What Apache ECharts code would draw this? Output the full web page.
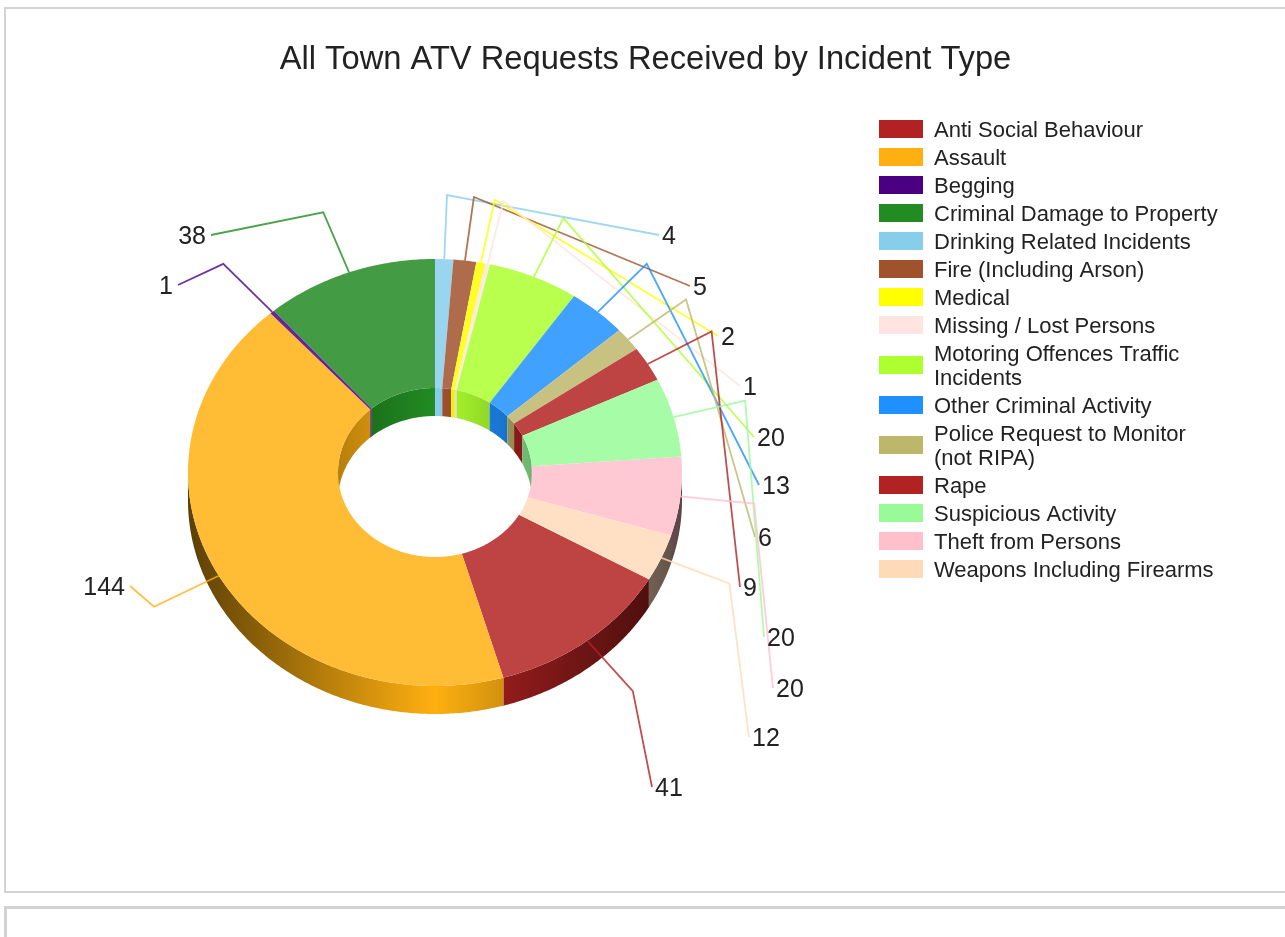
<!DOCTYPE html>
<html>
<head>
<meta charset="utf-8">
<title>All Town ATV Requests Received by Incident Type</title>
<script src="https://cdn.jsdelivr.net/npm/echarts@6/dist/echarts.min.js"></script>
<style>
  html, body { margin: 0; height: 100%; background: #fff; overflow: hidden; }
  .panel { position: absolute; left: 4px; width: 1400px; border: solid #d3d3d3; box-sizing: border-box; }
  #panelTop { top: 7px; height: 886px; border-width: 2px; }
  #panelNext { top: 906px; height: 200px; border-width: 3px 2px 2px 3px; }
  #chart { position: absolute; left: 0; top: 0; width: 1285px; height: 937px; }
</style>
</head>
<body>
<div class="panel" id="panelTop"></div>
<div class="panel" id="panelNext"></div>
<div id="chart"></div>
<script>
const categories = [
  "Anti Social Behaviour", "Assault", "Begging", "Criminal Damage to Property",
  "Drinking Related Incidents", "Fire (Including Arson)", "Medical", "Missing / Lost Persons",
  "Motoring Offences Traffic\nIncidents", "Other Criminal Activity",
  "Police Request to Monitor\n(not RIPA)", "Rape", "Suspicious Activity",
  "Theft from Persons", "Weapons Including Firearms",
];
const values = [41, 144, 1, 38, 4, 5, 2, 1, 20, 13, 6, 9, 20, 20, 12];
const colors = [
  "#B22222", "#FFB010", "#4B0082", "#228B22", "#87CEEB", "#A0522D", "#FFFF00", "#FFE4E1",
  "#ADFF2F", "#1E90FF", "#BDB76B", "#B22222", "#98FB98", "#FFC0CB", "#FFDAB9",
];
// where each leader line stops, same order as categories
const leaderEnds = [
  [652, 787], [130, 586], [178, 285], [211, 235], [659, 235], [690, 286], [718, 336], [740, 386],
  [754, 437], [759, 485], [755, 537], [740, 587], [764, 637], [773, 688], [749, 737],
];
// the slice that begins at 12 o'clock
const firstAtTop = 4;

// pie geometry
const cx = 435, cy = 472.5, rx = 247, ry = 213.5, holeRx = 97, holeRy = 84.5, depth = 28;
const knee = 1.3;

const total = values.reduce((a, b) => a + b, 0);
const beforeTop = values.slice(0, firstAtTop).reduce((a, b) => a + b, 0);

function startOf(i) {
  let sum = 0;
  for (let k = 0; k < i; k++) sum += values[k];
  return ((sum - beforeTop) / total) * Math.PI * 2;
}

function pointAt(a, x, y, dy) {
  return [cx + x * Math.sin(a), cy - y * Math.cos(a) + (dy || 0)];
}

function arc(from, to, x, y, dy) {
  let pts = [];
  let steps = Math.max(2, Math.ceil(Math.abs(to - from) / 0.01));
  for (let s = 0; s <= steps; s++) {
    pts.push(pointAt(from + ((to - from) * s) / steps, x, y, dy));
  }
  return pts;
}

function shade(hex, k) {
  const n = parseInt(hex.slice(1), 16);
  const c = [(n >> 16) & 255, (n >> 8) & 255, n & 255].map((v) => Math.round(v * k));
  return `rgb(${c[0]},${c[1]},${c[2]})`;
}

function lighten(hex, k) {
  const n = parseInt(hex.slice(1), 16);
  const c = [(n >> 16) & 255, (n >> 8) & 255, n & 255].map((v) => Math.round(v + (255 - v) * k));
  return `rgb(${c[0]},${c[1]},${c[2]})`;
}

// walls get lit from the middle of the pie
function wallFill(hex, left, right, leftK, rightK) {
  return new echarts.graphic.LinearGradient(left, 0, right, 0, [
    { offset: 0, color: shade(hex, leftK) },
    { offset: 0.5, color: shade(hex, 1) },
    { offset: 1, color: shade(hex, rightK) },
  ], true);
}

// part of [from, to] that falls inside [lo, hi], trying full turns
function overlaps(from, to, lo, hi) {
  let out = [];
  for (let turn = -2; turn <= 2; turn++) {
    const a = Math.max(from, lo + turn * Math.PI * 2);
    const b = Math.min(to, hi + turn * Math.PI * 2);
    if (b > a) out.push([a, b]);
  }
  return out;
}

function renderSlice(i, api) {
  const from = startOf(i);
  const to = from + (api.value(0) / total) * Math.PI * 2;
  const mid = (from + to) / 2;
  const hex = colors[i];
  let children = [];

  // outer wall, front half only
  overlaps(from, to, Math.PI / 2, (Math.PI * 3) / 2).forEach((r) => {
    children.push({
      type: "polygon",
      z2: 1,
      shape: { points: arc(r[0], r[1], rx, ry, 0).concat(arc(r[1], r[0], rx, ry, depth)) },
      style: { fill: wallFill(hex, cx - rx, cx + rx, 0.36, 0.36) },
    });
  });
  // inner wall, back half only
  overlaps(from, to, -Math.PI / 2, Math.PI / 2).forEach((r) => {
    children.push({
      type: "polygon",
      z2: 2,
      shape: { points: arc(r[0], r[1], holeRx, holeRy, 0).concat(arc(r[1], r[0], holeRx, holeRy, depth)) },
      style: { fill: wallFill(hex, cx - holeRx, cx + holeRx, 0.72, 0.72) },
    });
  });
  // top face
  children.push({
    type: "polygon",
    z2: 3,
    shape: { points: arc(from, to, rx, ry, 0).concat(arc(to, from, holeRx, holeRy, 0)) },
    style: { fill: lighten(hex, 0.15) },
  });
  // leader line and value label
  const end = leaderEnds[i];
  children.push({
    type: "polyline",
    z2: 4,
    shape: { points: [pointAt(mid, rx, ry), pointAt(mid, rx * knee, ry * knee), end] },
    style: { stroke: hex, lineWidth: 1.8, fill: null, opacity: 0.8 },
  });
  const onLeft = end[0] < cx;
  children.push({
    type: "text",
    z2: 5,
    style: {
      x: end[0] + (onLeft ? -5 : 3),
      y: end[1] + 2,
      text: String(api.value(0)),
      fill: "#222",
      font: '25px "Liberation Sans"',
      align: onLeft ? "right" : "left",
      verticalAlign: "middle",
    },
  });
  return { type: "group", children: children };
}

let chart = echarts.init(document.getElementById("chart"), null, { renderer: "canvas" });

let option = {
  animation: false,
  title: {
    text: "All Town ATV Requests Received by Incident Type",
    left: 640.5,
    top: 38,
    textAlign: "center",
    textStyle: { fontFamily: "Liberation Sans", fontSize: 32.7, fontWeight: "normal", color: "#222" },
  },
  legend: {
    orient: "vertical",
    left: 879,
    top: 119,
    padding: 0,
    itemWidth: 44,
    itemHeight: 22,
    itemGap: 4,
    // swatch sits a little above the middle of its row, like the original
    icon: "path://M0 0H44V18H0Z M0 22H0Z",
    symbolKeepAspect: false,
    data: categories,
    textStyle: { fontFamily: "Liberation Sans", fontSize: 22, lineHeight: 24, color: "#222", padding: [0, 0, 0, 6] },
    selectedMode: false,
  },
  series: categories.map((name, i) => ({
    type: "custom",
    name: name,
    coordinateSystem: "none",
    silent: true,
    itemStyle: { color: colors[i] },
    data: [[values[i]]],
    renderItem: (params, api) => renderSlice(i, api),
  })),
};

if (option && typeof option === "object") {
  chart.setOption(option);
}
</script>
</body>
</html>
